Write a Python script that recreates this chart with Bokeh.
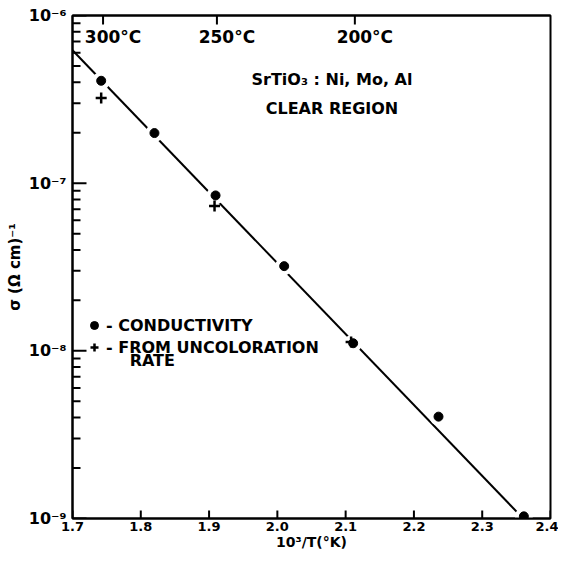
import numpy as np
from bokeh.plotting import figure
from bokeh.models import (Range1d, FixedTicker, LinearAxis, CustomJSTickFormatter,
                          PrintfTickFormatter, Legend, LegendItem, Label)
from bokeh.core.properties import value
from bokeh.embed import file_html
from bokeh.resources import INLINE

# ---- data ----
cond_x = [1.742, 1.820, 1.9095, 2.010, 2.111, 2.236, 2.361]
cond_y = [4.08e-7, 1.99e-7, 8.45e-8, 3.2e-8, 1.11e-8, 4.05e-9, 1.03e-9]
uncol_x = [1.742, 1.908, 2.108]
uncol_y = [3.22e-7, 7.3e-8, 1.13e-8]
fit_x = [1.70, 2.36]
fit_y = [6.2e-7, 1.0e-9]
x_ticks = [1.7, 1.8, 1.9, 2.0, 2.1, 2.2, 2.3, 2.4]
y_decades = [1e-9, 1e-8, 1e-7, 1e-6]
temps_C = [300, 250, 200]
temp_labels = ["300°C", "250°C", "200°C"]

FONT = "DejaVu Sans"
X0, X1, Y0, Y1 = 1.7, 2.4, 1e-9, 1e-6

top_ticks = [1000.0 / (t + 273.15) for t in temps_C]
minor_y = [m * 10.0 ** e for e in range(-9, -6) for m in range(2, 10)]

p = figure(width=558, height=552, x_range=Range1d(X0, X1), y_range=Range1d(Y0, Y1),
           y_axis_type="log", output_backend="svg", toolbar_location=None,
           min_border_left=72, min_border_right=8, min_border_top=15, min_border_bottom=30)
p.grid.visible = False
p.outline_line_color = "black"
p.outline_line_width = 2
p.background_fill_color = "white"
p.border_fill_color = "white"

# x axis
xa = p.xaxis[0]
xa.ticker = FixedTicker(ticks=x_ticks, minor_ticks=[])
xa.formatter = PrintfTickFormatter(format="%.1f")
xa.major_tick_in = 0
xa.major_tick_out = 0
xa.axis_line_width = 2
xa.major_label_standoff = 3
xa.major_label_text_font = FONT
xa.major_label_text_font_style = "bold"
xa.major_label_text_font_size = "13px"
xa.major_label_text_color = "black"
xa.axis_label = "10³/T(°K)"
xa.axis_label_standoff = 0
xa.axis_label_text_font = FONT
xa.axis_label_text_font_style = "bold"
xa.axis_label_text_font_size = "14px"
xa.axis_label_text_color = "black"

# y axis
ya = p.yaxis[0]
ya.ticker = FixedTicker(ticks=y_decades, minor_ticks=minor_y)
ya.formatter = CustomJSTickFormatter(code="""
const e = Math.round(Math.log10(tick));
const m = {"-":"⁻","0":"⁰","1":"¹","2":"²","3":"³","4":"⁴","5":"⁵","6":"⁶","7":"⁷","8":"⁸","9":"⁹"};
return "10" + String(e).split("").map(c => m[c]).join("");
""")
ya.major_tick_in = 0
ya.major_tick_out = 0
ya.minor_tick_in = 0
ya.minor_tick_out = 0
ya.axis_line_width = 2
ya.major_label_standoff = 6
ya.major_label_text_font = FONT
ya.major_label_text_font_style = "bold"
ya.major_label_text_font_size = "16px"
ya.major_label_text_color = "black"
ya.axis_label = "σ (Ω cm)⁻¹"
ya.axis_label_standoff = 2
ya.axis_label_text_font = FONT
ya.axis_label_text_font_style = "bold"
ya.axis_label_text_font_size = "15px"
ya.axis_label_text_color = "black"

# top temperature axis line
top = LinearAxis(ticker=FixedTicker(ticks=top_ticks, minor_ticks=[]),
                 formatter=CustomJSTickFormatter(code="return '';"),
                 major_tick_in=0, major_tick_out=0, axis_line_width=2, major_label_standoff=0)
p.add_layout(top, "above")

# inward tick marks drawn as screen-length rays from the frame edges
tick_kw = dict(line_color="black", line_width=2, length_units="screen")
p.ray(x=x_ticks, y=[Y0] * len(x_ticks), length=8, angle=np.pi / 2, **tick_kw)
p.ray(x=[X0] * len(y_decades), y=y_decades, length=14, angle=0, **tick_kw)
p.ray(x=[X0] * len(minor_y), y=minor_y, length=8, angle=0, **tick_kw)
p.ray(x=top_ticks, y=[Y1] * len(top_ticks), length=9, angle=-np.pi / 2, **tick_kw)

p.text(x=top_ticks, y=[7.4e-7] * len(top_ticks), text=temp_labels,
       text_font=value(FONT), text_font_style="bold", text_font_size="17px",
       text_color="black", text_align="center", text_baseline="middle", x_offset=10)

# fitted line
p.line(fit_x, fit_y, line_color="black", line_width=2)

# data points (white halo breaks the line around each dot)
p.scatter(cond_x, cond_y, marker="circle", size=18, fill_color="white", line_color=None)
dots = p.scatter(cond_x, cond_y, marker="circle", size=9, fill_color="black", line_color="black")
plus = p.scatter(uncol_x, uncol_y, marker="cross", size=11, line_color="black", line_width=2.5)

# annotations
for txt, yy in [("SrTiO₃ : Ni, Mo, Al", 4.16e-7), ("CLEAR REGION", 2.79e-7)]:
    p.add_layout(Label(x=2.08, y=yy, text=txt, text_font=FONT, text_font_style="bold",
                       text_font_size="16px", text_color="black",
                       text_align="center", text_baseline="middle"))

legend = Legend(items=[LegendItem(label="- CONDUCTIVITY", renderers=[dots]),
                       LegendItem(label="- FROM UNCOLORATION", renderers=[plus])],
                location=(12, 161), background_fill_alpha=0, border_line_color=None,
                padding=0, margin=0, spacing=2, glyph_width=20, glyph_height=20,
                label_height=20, label_standoff=2, label_text_font=FONT,
                label_text_font_style="bold", label_text_font_size="16px",
                label_text_color="black")
p.add_layout(legend)
p.add_layout(Label(x=1.7837, y=8.72e-9, text="RATE", text_font=FONT, text_font_style="bold",
                   text_font_size="16px", text_color="black", text_baseline="middle"))

open("out.html", "w", encoding="utf-8").write(file_html(p, INLINE))
